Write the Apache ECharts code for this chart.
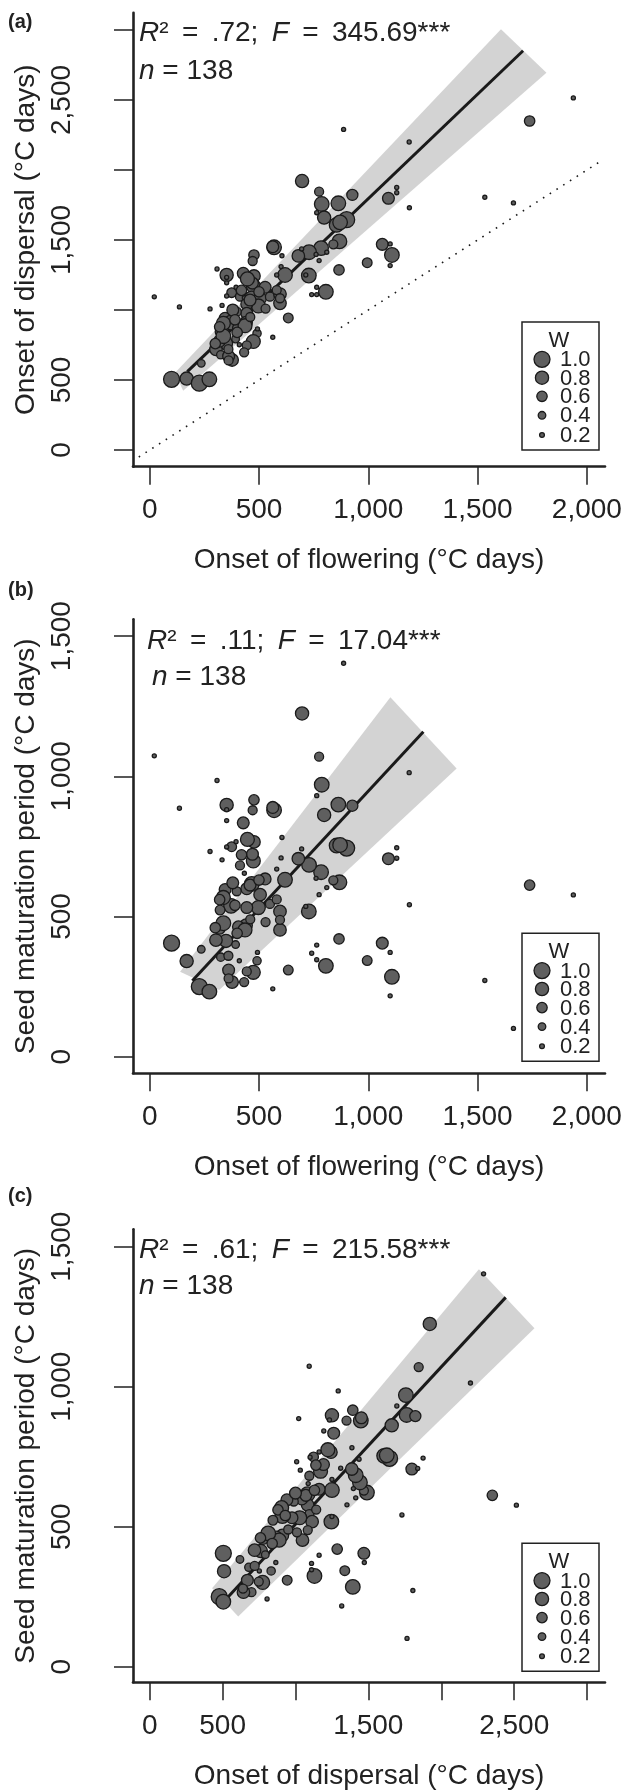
<!DOCTYPE html>
<html><head><meta charset="utf-8">
<script src="https://cdn.jsdelivr.net/npm/echarts@6/dist/echarts.min.js"></script>
<style>html,body{margin:0;padding:0;background:#fff}#c{width:633px;height:1792px}</style>
</head><body><div id="c"></div>
<script>
// ---- data (°C days), one entry per species ----
const flowering = [697,775,787,863,927,798,1092,1130,1130,1188,901,855,871,868,840,784,729,680,775,569,563,477,471,605,1064,1108,1100,1100,995,866,728,714,619,581,601,352,352,308,428,477,474,470,528,447,375,395,413,467,505,550,596,596,497,444,352,331,276,136,21,634,444,398,345,372,337,441,406,322,349,322,393,491,474,444,432,303,325,377,236,410,563,806,764,741,764,100,169,227,273,887,1187,1938,1738,1533,1664,764,352,695,433,459,493,436,319,337,361,361,581,596,810,761,420,500,380,320,390,460,530,300,360,400];
const dispersal = [1921,1845,1757,1762,1822,1660,1798,1875,1838,1730,1645,1608,1626,1490,1469,1442,1413,1386,1353,1448,1452,1393,1350,1387,1469,1393,1472,1317,1338,1286,1246,1250,1250,1250,1310,1250,1233,1293,1262,1243,1172,1192,1162,1222,1124,1162,1095,1083,1083,1095,1114,1048,1029,1043,1100,1033,1008,1022,1094,943,976,988,941,910,905,910,869,845,762,774,793,833,775,748,698,719,680,643,619,752,805,1130,1162,1110,1110,505,510,477,505,2290,2200,2515,2350,1805,1765,1695,1194,1436,1087,1071,865,888,777,813,670,640,1142,1084,1413,1397,1140,1130,1000,880,930,950,1010,760,720,840];
const maturation = [1224,1070,970,899,895,862,706,745,708,542,744,753,755,622,629,658,684,706,578,879,889,916,879,782,405,285,372,217,343,420,518,536,631,669,709,898,881,985,834,766,698,722,634,775,749,767,682,616,578,545,518,452,532,599,748,702,732,886,1073,309,532,590,596,538,568,469,463,523,413,452,400,342,301,304,266,416,355,266,383,342,242,324,398,369,346,405,341,250,232,1403,1013,577,612,272,101,931,842,741,654,612,372,452,458,476,309,279,561,488,603,636,720,630,620,560,540,490,480,460,360,440];
const weight = [0.8,0.5,0.9,0.9,0.65,0.8,0.7,0.15,0.15,0.15,1.0,0.9,0.9,0.9,0.5,0.9,0.9,0.75,0.15,0.9,0.7,0.6,0.5,0.15,0.7,0.9,0.15,0.15,0.55,0.6,0.9,0.15,0.9,0.15,0.15,0.8,0.15,0.15,0.7,0.75,0.85,0.7,0.7,0.85,0.55,0.15,0.5,0.9,0.75,0.5,0.75,0.75,0.85,0.7,0.15,0.15,0.15,0.15,0.15,0.55,0.7,0.5,0.7,0.9,0.85,0.75,0.7,0.55,0.8,0.15,0.4,0.45,0.85,0.5,0.5,0.75,0.45,0.75,0.4,0.15,0.15,0.9,0.15,0.15,0.15,1.0,0.8,1.0,0.9,0.15,0.15,0.15,0.6,0.15,0.15,0.15,0.15,0.15,0.15,0.7,0.15,0.85,0.7,0.9,0.7,0.5,0.5,0.5,0.15,0.15,0.6,0.6,0.7,0.6,0.6,0.5,0.5,0.6,0.5,0.6];

// fitted lines and their shaded bands
const fitA = [[172,560],[1708,2852]];
const bandA = [[116,552],[1607,3005],[1815,2695],[153,423]];
const fitB = [[195,271],[1252,1159]];
const bandB = [[139,303],[1101,1282],[1404,1028],[318,238]];
const fitC = [[539,250],[2442,1319]];
const bandC = [[428,280],[2258,1419],[2639,1209],[607,179]];
const identityLine = [[-50,-50],[2070,2070]];

// ticks and labels
const xTicksFlower = [0,500,1000,1500,2000];
const yTicksA = [0,500,1000,1500,2000,2500,3000];
const yLabelsA = [0,500,1500,2500];
const yTicksBC = [0,500,1000,1500];
const xTicksC = [0,500,1000,1500,2000,2500,3000];
const xLabelsC = [0,500,1500,2500];
const legendW = [1.0,0.8,0.6,0.4,0.2];
const panelLetters = ['(a)','(b)','(c)'];
const statR2 = ['.72','.11','.61'];
const statF = ['345.69','17.04','215.58'];
const statN = [138,138,138];

// ---- styling ----
const FF = '"Liberation Sans", Arial, Helvetica, sans-serif';
const INK = '#222';
const FILL = '#5f5f5f';
const sz = w => 2 + 14 * w;
const fmt = v => String(v).replace(/\B(?=(\d{3})+(?!\d))/g, ',');

const grids = [
  {left:133, top:12.7, width:472, height:454},
  {left:133, top:619.3, width:472, height:454},
  {left:133, top:1229.3, width:472, height:453}
];
const ext = [
  {x:[-76.4,2082.8], y:[-119.3,3123.6]},
  {x:[-76.4,2082.8], y:[-59.2,1559.9]},
  {x:[-114.5,3122.8], y:[-55.7,1562.1]}
];

function xAxis(gi, ticks, labels, name){
  return {type:'value', gridIndex:gi, min:ext[gi].x[0], max:ext[gi].x[1],
    axisLine:{show:true, onZero:false, lineStyle:{color:INK, width:2.6}},
    axisTick:{show:true, length:18, customValues:ticks, lineStyle:{color:INK, width:1.5}},
    axisLabel:{customValues:labels, formatter:fmt, fontSize:28, fontFamily:FF, color:INK, margin:30},
    splitLine:{show:false},
    name:name, nameLocation:'middle', nameGap:80,
    nameTextStyle:{fontSize:28, fontFamily:FF, color:INK}};
}
function yAxis(gi, ticks, labels, name){
  return {type:'value', gridIndex:gi, min:ext[gi].y[0], max:ext[gi].y[1],
    axisLine:{show:true, onZero:false, lineStyle:{color:INK, width:2.6}},
    axisTick:{show:true, length:19, customValues:ticks, lineStyle:{color:INK, width:1.5}},
    axisLabel:{customValues:labels, formatter:fmt, fontSize:28, fontFamily:FF, color:INK, margin:57, rotate:90},
    splitLine:{show:false},
    name:name, nameLocation:'middle', nameGap:93,
    nameTextStyle:{fontSize:28, fontFamily:FF, color:INK}};
}
function band(poly, gi){
  return {type:'custom', coordinateSystem:'cartesian2d', xAxisIndex:gi, yAxisIndex:gi, silent:true, z:1,
    data:[poly[0]],
    renderItem:(params, api)=>({type:'polygon', shape:{points:poly.map(p=>api.coord(p))}, style:{fill:'#d3d3d3'}})};
}
function fit(line, gi){
  return {type:'line', xAxisIndex:gi, yAxisIndex:gi, data:line, symbol:'none', silent:true, z:2,
    lineStyle:{color:'#1a1a1a', width:3}};
}
function pts(xs, ys, gi){
  return {type:'scatter', xAxisIndex:gi, yAxisIndex:gi, z:3, silent:true,
    data:xs.map((v,i)=>[v, ys[i], weight[i]]),
    symbolSize:val=>sz(val[2]),
    itemStyle:{color:FILL, borderColor:'#1a1a1a', borderWidth:1.3, opacity:1}};
}

// ---- text / legend graphics ----
const graphics = [];
const letterY = [22, 590, 1196];
const statY = [[33,71],[641,677],[1250,1286]];
const statX = [[139,139],[147,152],[139,139]];
const legTop = [322, 933.3, 1543.3];
const STAT_FS = 28;
const TS = '\u2009';
const richStat = {
  n:{fontSize:STAT_FS, fontFamily:FF, fill:INK},
  i:{fontSize:STAT_FS, fontFamily:FF, fill:INK, fontStyle:'italic'}
};
for (let p=0; p<3; p++){
  graphics.push({type:'text', x:8, y:letterY[p], style:{text:panelLetters[p], fontSize:20, fontWeight:'bold', fontFamily:FF, fill:INK, verticalAlign:'middle'}});
  graphics.push({type:'text', x:statX[p][0], y:statY[p][0], style:{
    text:'{i|R}{n|² '+TS+'='+TS+' '+statR2[p]+'; '+TS+'}{i|F}{n| '+TS+'='+TS+' '+statF[p]+'***}', fontSize:STAT_FS, fontFamily:FF, fill:INK, verticalAlign:'middle', rich:richStat}});
  graphics.push({type:'text', x:statX[p][1], y:statY[p][1], style:{
    text:'{i|n}{n| = '+statN[p]+'}', fontSize:STAT_FS, fontFamily:FF, fill:INK, verticalAlign:'middle', rich:richStat}});
  const t = legTop[p];
  graphics.push({type:'rect', shape:{x:522, y:t, width:77, height:128}, style:{fill:'#fff', stroke:INK, lineWidth:1.5}, z:10});
  graphics.push({type:'text', x:559, y:t+18.5, z:11, style:{text:'W', fontSize:22, fontFamily:FF, fill:INK, align:'center', verticalAlign:'middle'}});
  const rows = [37.3, 55.7, 74.3, 93.3, 113];
  legendW.forEach((w,k)=>{
    graphics.push({type:'circle', z:11, shape:{cx:542, cy:t+rows[k], r:sz(w)/2}, style:{fill:FILL, stroke:'#1a1a1a', lineWidth:1.3}});
    graphics.push({type:'text', z:11, x:560, y:t+rows[k]+1, style:{text:w.toFixed(1), fontSize:22, fontFamily:FF, fill:INK, verticalAlign:'middle'}});
  });
}

const chart = echarts.init(document.getElementById('c'), null, {renderer:'canvas'});
chart.setOption({
  animation:false,
  backgroundColor:'#fff',
  grid:grids.map(g=>Object.assign({containLabel:false, outerBoundsMode:'none'}, g)),
  xAxis:[
    xAxis(0, xTicksFlower, xTicksFlower, 'Onset of flowering (°C days)'),
    xAxis(1, xTicksFlower, xTicksFlower, 'Onset of flowering (°C days)'),
    xAxis(2, xTicksC, xLabelsC, 'Onset of dispersal (°C days)')
  ],
  yAxis:[
    yAxis(0, yTicksA, yLabelsA, 'Onset of dispersal (°C days)'),
    yAxis(1, yTicksBC, yTicksBC, 'Seed maturation period (°C days)'),
    yAxis(2, yTicksBC, yTicksBC, 'Seed maturation period (°C days)')
  ],
  series:[
    band(bandA,0), fit(fitA,0),
    {type:'line', xAxisIndex:0, yAxisIndex:0, data:identityLine, symbol:'none', silent:true, z:2,
      lineStyle:{color:'#1a1a1a', width:1.6, type:[1.6,6.4]}},
    pts(flowering, dispersal, 0),
    band(bandB,1), fit(fitB,1), pts(flowering, maturation, 1),
    band(bandC,2), fit(fitC,2), pts(dispersal, maturation, 2)
  ],
  graphic:graphics
});
</script></body></html>
